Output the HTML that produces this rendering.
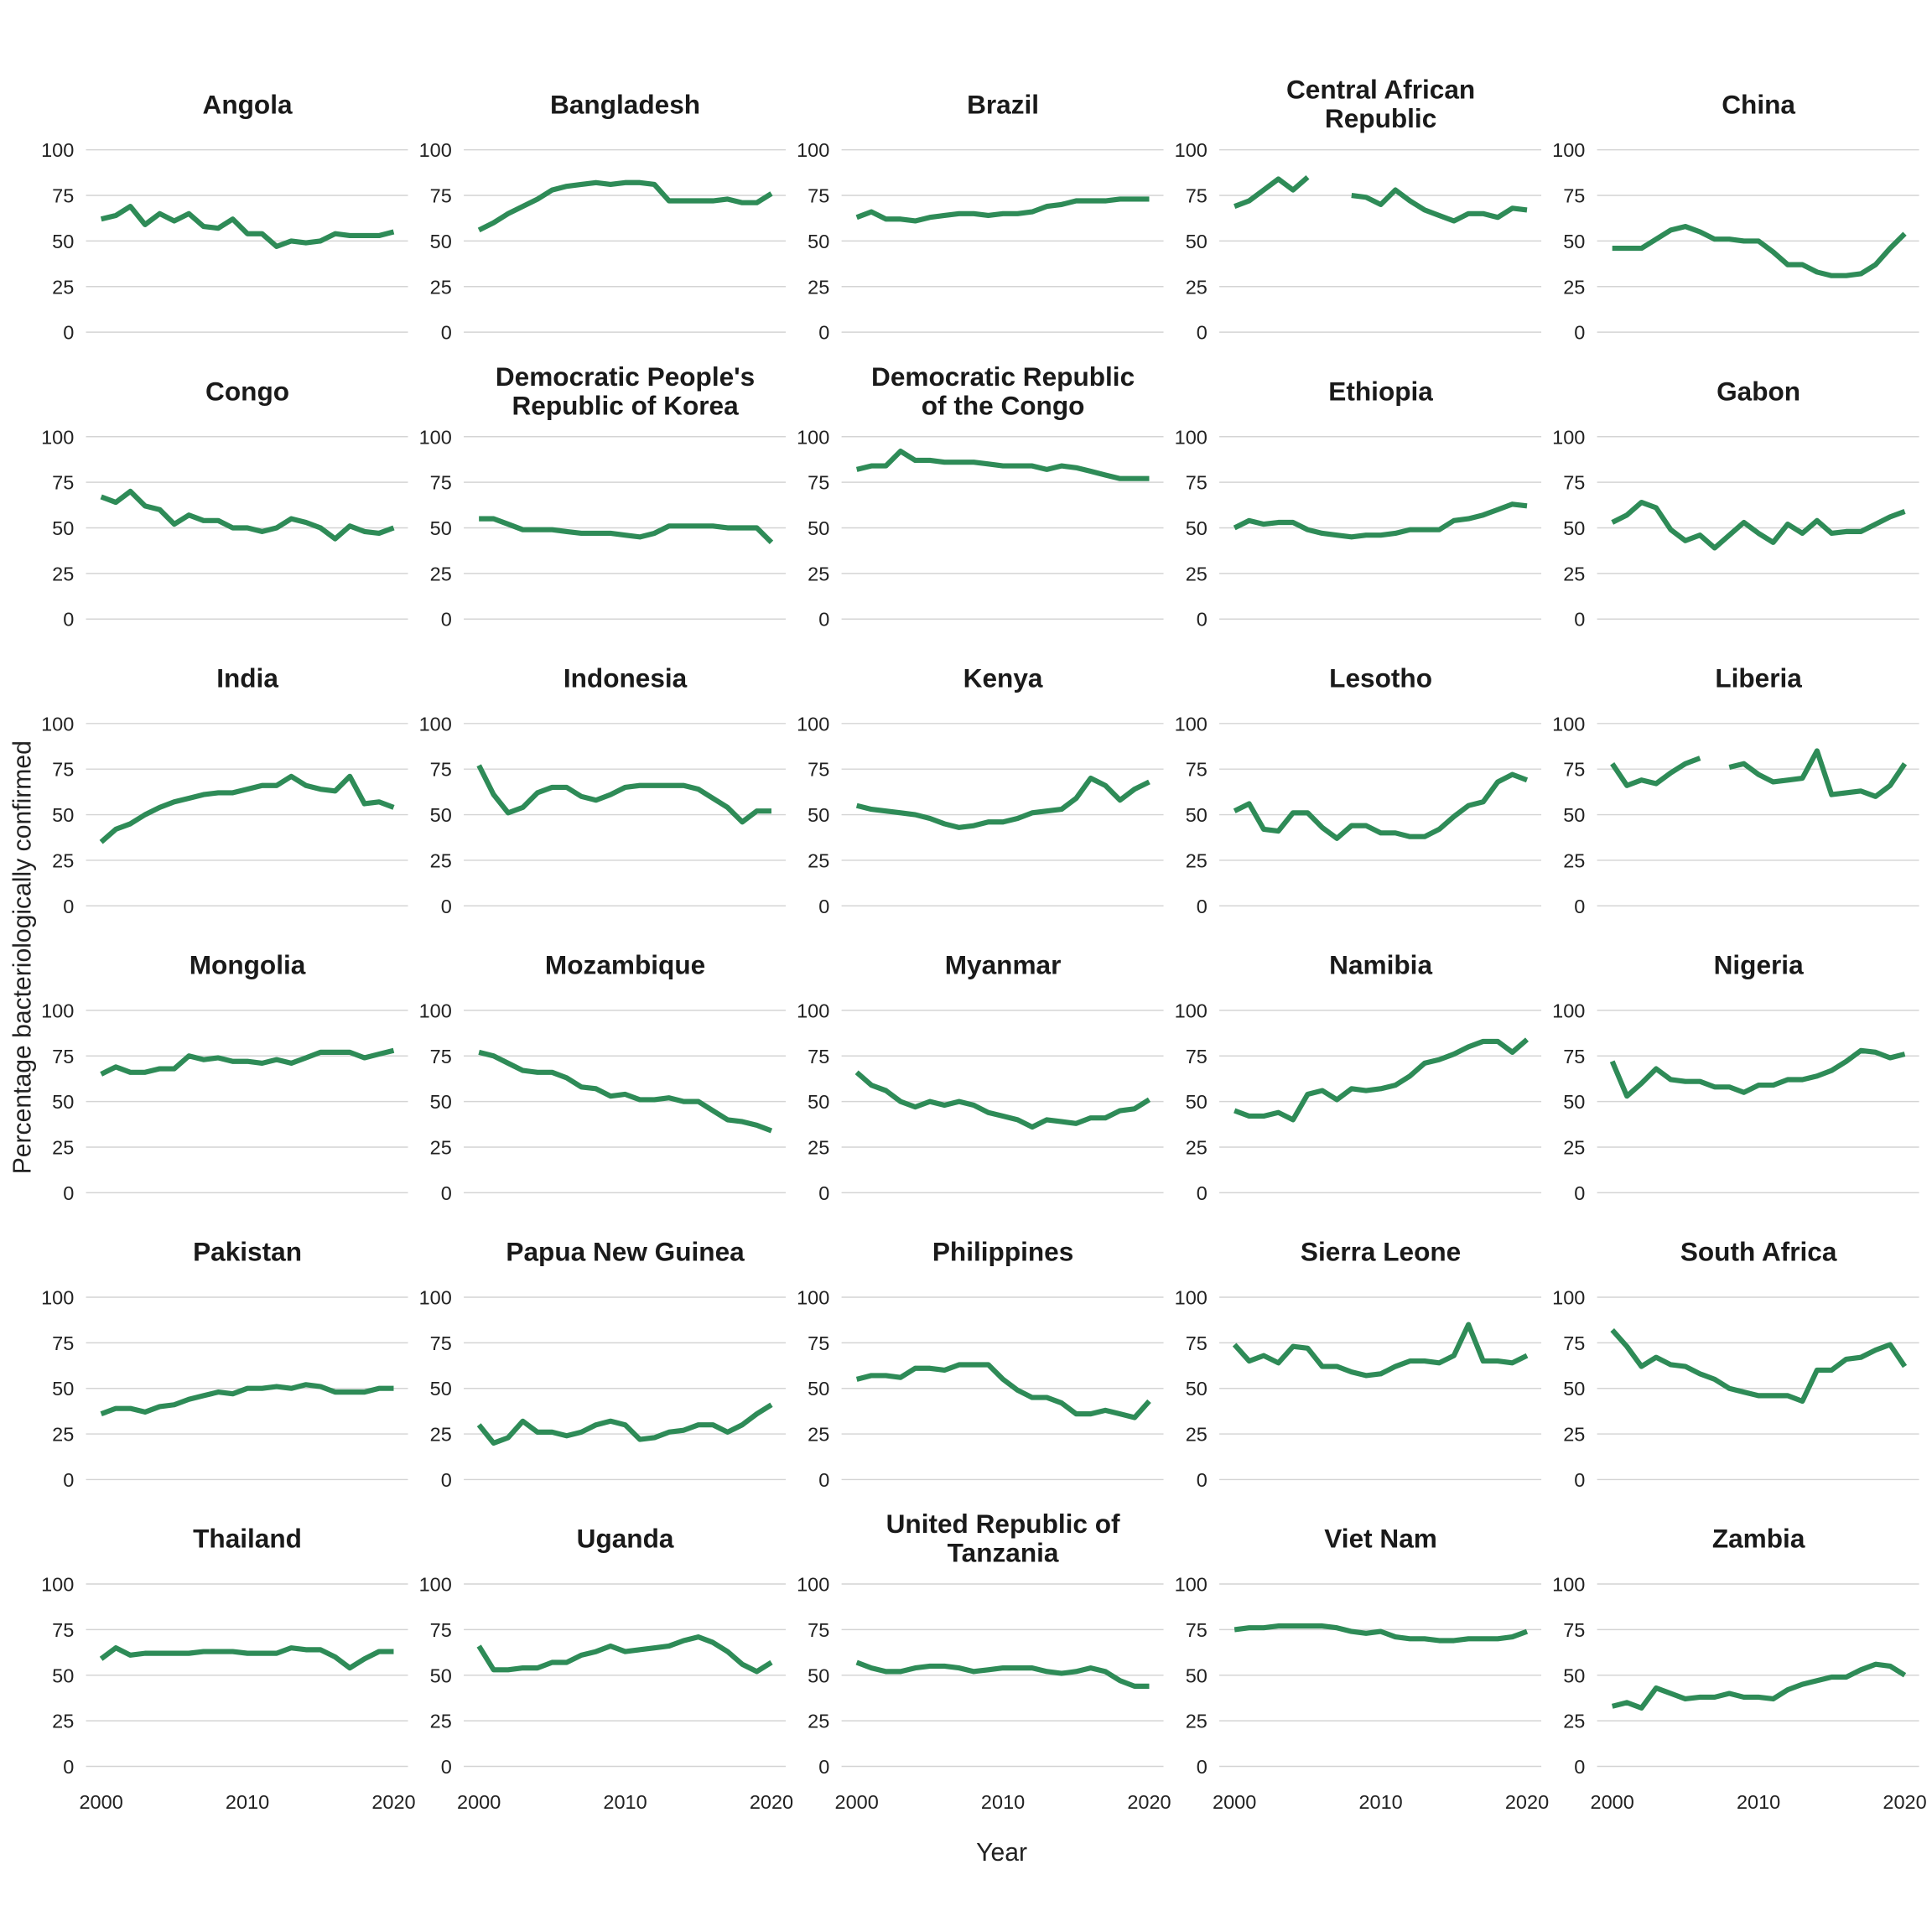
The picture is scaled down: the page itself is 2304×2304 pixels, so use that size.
<!DOCTYPE html>
<html><head><meta charset="utf-8"><style>html,body{margin:0;padding:0;background:#fff}svg{display:block}</style></head>
<body>
<svg id="s" xmlns="http://www.w3.org/2000/svg" width="2304" height="2304" viewBox="0 0 1568 1568" font-family="Liberation Sans, Arial, sans-serif"></svg>
<script>
var D=[
["Angola",[62,64,69,59,65,61,65,58,57,62,54,54,47,50,49,50,54,53,53,53,55]],
["Bangladesh",[56,60,65,69,73,78,80,81,82,81,82,82,81,72,72,72,72,73,71,71,76]],
["Brazil",[63,66,62,62,61,63,64,65,65,64,65,65,66,69,70,72,72,72,73,73,73]],
["Central African|Republic",[69,72,78,84,78,85,null,null,75,74,70,78,72,67,64,61,65,65,63,68,67]],
["China",[46,46,46,51,56,58,55,51,51,50,50,44,37,37,33,31,31,32,37,46,54]],
["Congo",[67,64,70,62,60,52,57,54,54,50,50,48,50,55,53,50,44,51,48,47,50]],
["Democratic People's|Republic of Korea",[55,55,52,49,49,49,48,47,47,47,46,45,47,51,51,51,51,50,50,50,42]],
["Democratic Republic|of the Congo",[82,84,84,92,87,87,86,86,86,85,84,84,84,82,84,83,81,79,77,77,77]],
["Ethiopia",[50,54,52,53,53,49,47,46,45,46,46,47,49,49,49,54,55,57,60,63,62]],
["Gabon",[53,57,64,61,49,43,46,39,46,53,47,42,52,47,54,47,48,48,52,56,59]],
["India",[35,42,45,50,54,57,59,61,62,62,64,66,66,71,66,64,63,71,56,57,54]],
["Indonesia",[77,61,51,54,62,65,65,60,58,61,65,66,66,66,66,64,59,54,46,52,52]],
["Kenya",[55,53,52,51,50,48,45,43,44,46,46,48,51,52,53,59,70,66,58,64,68]],
["Lesotho",[52,56,42,41,51,51,43,37,44,44,40,40,38,38,42,49,55,57,68,72,69]],
["Liberia",[78,66,69,67,73,78,81,null,76,78,72,68,69,70,85,61,62,63,60,66,78]],
["Mongolia",[65,69,66,66,68,68,75,73,74,72,72,71,73,71,74,77,77,77,74,76,78]],
["Mozambique",[77,75,71,67,66,66,63,58,57,53,54,51,51,52,50,50,45,40,39,37,34]],
["Myanmar",[66,59,56,50,47,50,48,50,48,44,42,40,36,40,39,38,41,41,45,46,51]],
["Namibia",[45,42,42,44,40,54,56,51,57,56,57,59,64,71,73,76,80,83,83,77,84]],
["Nigeria",[72,53,60,68,62,61,61,58,58,55,59,59,62,62,64,67,72,78,77,74,76]],
["Pakistan",[36,39,39,37,40,41,44,46,48,47,50,50,51,50,52,51,48,48,48,50,50]],
["Papua New Guinea",[30,20,23,32,26,26,24,26,30,32,30,22,23,26,27,30,30,26,30,36,41]],
["Philippines",[55,57,57,56,61,61,60,63,63,63,55,49,45,45,42,36,36,38,36,34,43]],
["Sierra Leone",[74,65,68,64,73,72,62,62,59,57,58,62,65,65,64,68,85,65,65,64,68]],
["South Africa",[82,73,62,67,63,62,58,55,50,48,46,46,46,43,60,60,66,67,71,74,62]],
["Thailand",[59,65,61,62,62,62,62,63,63,63,62,62,62,65,64,64,60,54,59,63,63]],
["Uganda",[66,53,53,54,54,57,57,61,63,66,63,64,65,66,69,71,68,63,56,52,57]],
["United Republic of|Tanzania",[57,54,52,52,54,55,55,54,52,53,54,54,54,52,51,52,54,52,47,44,44]],
["Viet Nam",[75,76,76,77,77,77,77,76,74,73,74,71,70,70,69,69,70,70,70,71,74]],
["Zambia",[33,35,32,43,40,37,38,38,40,38,38,37,42,45,47,49,49,53,56,55,50]]
];
var h='';
D.forEach(function(d,i){
 var c=i%5,r=Math.floor(i/5);
 var x0=82.1+c*306.6, yt=121.6+r*232.8;
 function X(k){return x0+k*11.87}
 function Y(v){return yt+(100-v)*1.48}
 [0,25,50,75,100].forEach(function(v){
  h+='<line x1="'+(x0-12.3)+'" x2="'+(x0+249)+'" y1="'+Y(v)+'" y2="'+Y(v)+'" stroke="#d4d4d4" stroke-width="1"/>';
  h+='<text x="'+(x0-22)+'" y="'+(Y(v)+5.8)+'" text-anchor="end" font-size="16" fill="#222">'+v+'</text>';
 });
 var t=d[0].split('|'), cx=x0+118.7;
 if(t.length==1) h+='<text x="'+cx+'" y="'+(yt-29.5)+'" text-anchor="middle" font-size="21.5" font-weight="bold" fill="#1a1a1a">'+t[0]+'</text>';
 else {h+='<text x="'+cx+'" y="'+(yt-41.5)+'" text-anchor="middle" font-size="21.5" font-weight="bold" fill="#1a1a1a">'+t[0]+'</text>';
  h+='<text x="'+cx+'" y="'+(yt-18)+'" text-anchor="middle" font-size="21.5" font-weight="bold" fill="#1a1a1a">'+t[1]+'</text>';}
 var p='',pen=false;
 d[1].forEach(function(v,k){ if(v==null){pen=false;return;} p+=(pen?'L':'M')+X(k).toFixed(1)+','+Y(v).toFixed(1); pen=true;});
 h+='<path d="'+p+'" fill="none" stroke="#2e8b57" stroke-width="4.2" stroke-linejoin="round"/>';
 if(r==5){[0,10,20].forEach(function(k){h+='<text x="'+X(k)+'" y="1468" text-anchor="middle" font-size="16" fill="#222">'+(2000+k)+'</text>';});}
});
h+='<text x="813" y="1510" text-anchor="middle" font-size="20.5" fill="#222">Year</text>';
h+='<text transform="translate(25,777) rotate(-90)" text-anchor="middle" font-size="20.5" fill="#222">Percentage bacteriologically confirmed</text>';
document.getElementById('s').innerHTML=h;
</script>
</body></html>
